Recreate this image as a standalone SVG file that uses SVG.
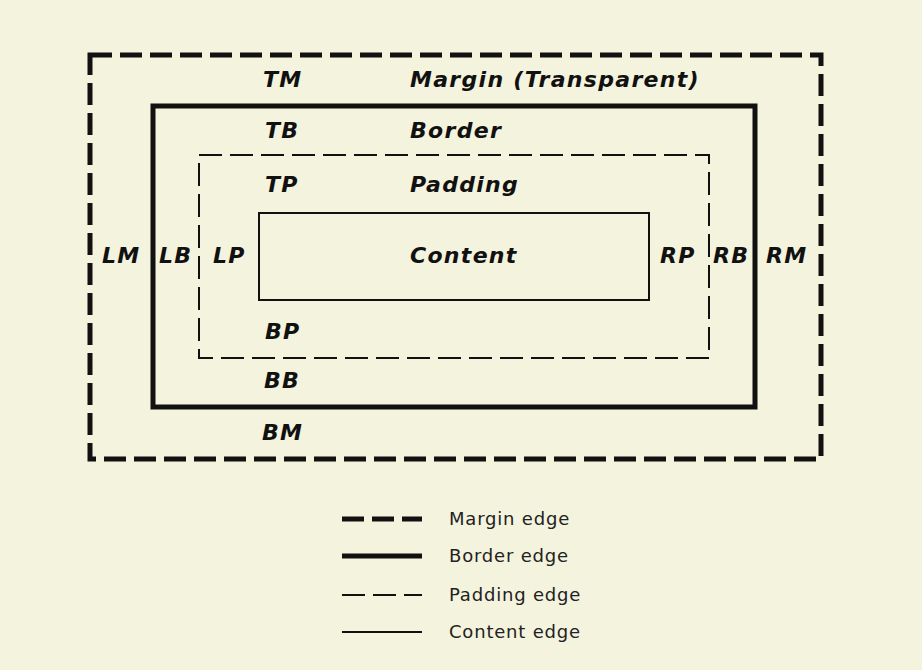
<svg xmlns="http://www.w3.org/2000/svg" width="922" height="670" viewBox="0 0 922 670">
<style>
.lbl{font-family:"DejaVu Sans",Verdana,sans-serif;font-weight:bold;font-style:italic;font-size:22px;letter-spacing:1.3px;fill:#111}
.leg{font-family:"DejaVu Sans",Verdana,sans-serif;font-size:18px;letter-spacing:0.8px;fill:#222}
.margin{fill:none;stroke:#111;stroke-width:5;stroke-dasharray:22 8}
.border{fill:none;stroke:#111;stroke-width:5}
.padding{fill:none;stroke:#111;stroke-width:2;stroke-dasharray:23 8}
.content{fill:none;stroke:#111;stroke-width:2}
</style>
<rect width="922" height="670" fill="#f4f3dd"/>
<g id="margin-box">
<rect class="margin" x="90" y="55" width="731" height="404"/>
<text class="lbl" x="263" y="87">TM</text>
<text class="lbl" x="410" y="87">Margin (Transparent)</text>
<text class="lbl" x="102" y="263">LM</text>
<text class="lbl" x="766" y="263">RM</text>
<text class="lbl" x="262" y="440">BM</text>
</g>
<g id="border-box">
<rect class="border" x="153" y="106" width="602" height="301"/>
<text class="lbl" x="265" y="138">TB</text>
<text class="lbl" x="410" y="138">Border</text>
<text class="lbl" x="159" y="263">LB</text>
<text class="lbl" x="713" y="263">RB</text>
<text class="lbl" x="264" y="388">BB</text>
</g>
<g id="padding-box">
<rect class="padding" x="199" y="155" width="510" height="203"/>
<text class="lbl" x="265" y="192">TP</text>
<text class="lbl" x="410" y="192">Padding</text>
<text class="lbl" x="213" y="263">LP</text>
<text class="lbl" x="660" y="263">RP</text>
<text class="lbl" x="265" y="339">BP</text>
</g>
<g id="content-box">
<rect class="content" x="259" y="213" width="390" height="87"/>
<text class="lbl" x="410" y="263">Content</text>
</g>
<g id="legend">
<line class="margin" x1="342" y1="519" x2="422" y2="519" stroke-dasharray="23 7.5"/>
<line class="border" x1="342" y1="556" x2="422" y2="556"/>
<line class="padding" x1="342" y1="595" x2="422" y2="595" stroke-dasharray="23 8"/>
<line class="content" x1="342" y1="632" x2="422" y2="632"/>
<text class="leg" x="449" y="525">Margin edge</text>
<text class="leg" x="449" y="562">Border edge</text>
<text class="leg" x="449" y="601">Padding edge</text>
<text class="leg" x="449" y="638">Content edge</text>
</g>
</svg>
